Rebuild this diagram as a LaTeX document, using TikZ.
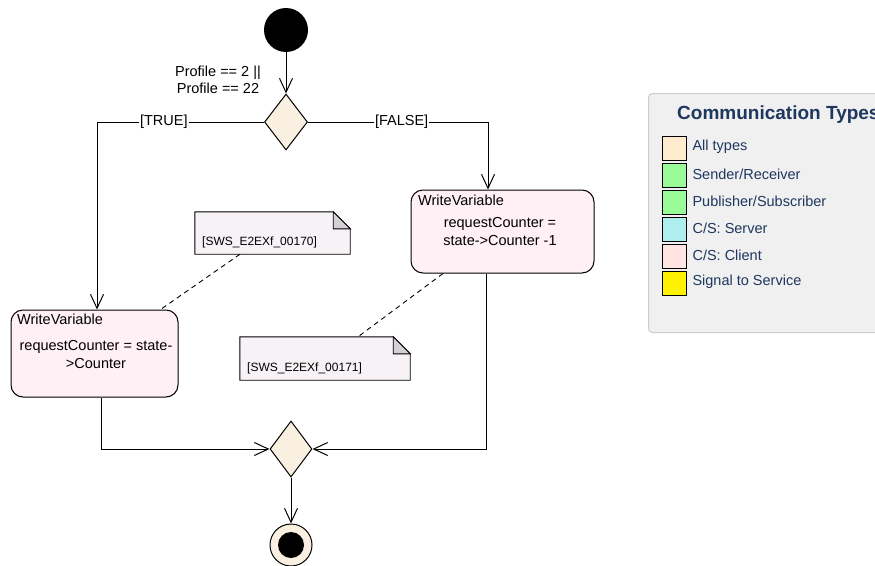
\documentclass[tikz,border=0pt]{standalone}
\usepackage{fontspec}
\setmainfont{Liberation Sans}
\usetikzlibrary{arrows.meta,shapes.geometric}
\definecolor{actfill}{RGB}{255,240,245}
\definecolor{decfill}{RGB}{250,240,225}
\definecolor{notefill}{RGB}{246,242,246}
\definecolor{foldfill}{RGB}{212,208,214}
\definecolor{legendbg}{RGB}{240,240,240}
\definecolor{legendline}{RGB}{205,205,205}
\definecolor{legendtext}{RGB}{30,55,95}
\definecolor{alltypes}{RGB}{255,235,205}
\definecolor{senderrec}{RGB}{152,251,152}
\definecolor{csserver}{RGB}{175,238,238}
\definecolor{csclient}{RGB}{255,228,225}
\newcommand{\flowsize}{1pt}

\begin{document}
\begin{tikzpicture}[x=1pt,y=-1pt,
  flow/.style={line width=\flowsize, -{Straight Barb[length=14pt,width=13pt]}},
  decision/.style={diamond, draw, fill=decfill, line width=\flowsize, minimum width=43pt, minimum height=56pt, inner sep=0pt},
  actbox/.style={rectangle, rounded corners=12pt, draw, fill=actfill, line width=\flowsize},
  guard/.style={fill=white, inner sep=1pt, font=\fontsize{14.5}{16}\selectfont},
  swatch/.style={rectangle, draw, line width=.8pt, minimum size=24pt, inner sep=0pt},
  legendentry/.style={anchor=west, text=legendtext, font=\fontsize{14.5}{16}\selectfont}]
  \useasboundingbox (0,0) rectangle (875,565);

  % start and first decision
  \node (init) at (286,30) [circle, fill=black, minimum size=44pt, inner sep=0pt] {};
  \node (dec1) at (286,122) [decision] {};
  \node (cond) at (218,80) [align=center, font=\fontsize{14.5}{17}\selectfont] {Profile == 2 ||\\Profile == 22};
  \draw[flow] (init) to (dec1);

  % the two write actions
  \node (wrR) at (502.5,231.5) [actbox, minimum width=183pt, minimum height=83pt] {};
  \node (wrL) at (94.5,353.5) [actbox, minimum width=167pt, minimum height=87pt] {};
  \node (wrRtitle) at (418,200) [anchor=west, inner sep=0pt, font=\fontsize{14.5}{15}\selectfont] {WriteVariable};
  \node (wrLtitle) at (17,319) [anchor=west, inner sep=0pt, font=\fontsize{14.5}{15}\selectfont] {WriteVariable};
  \node (wrRbody) at (500,232) [align=center, font=\fontsize{14.5}{18}\selectfont] {requestCounter =\\state->Counter -1};
  \node (wrLbody) at (96,355) [align=center, font=\fontsize{14.5}{18}\selectfont] {requestCounter = state-\\>Counter};

  \draw[flow] (dec1.west) -| node[guard, pos=.3] {[TRUE]} ([xshift=2.5pt]wrL.north);
  \draw[flow] (dec1.east) -| node[guard, pos=.26] {[FALSE]} ([xshift=-14.5pt]wrR.north);

  % notes
  \node (n170) at (272.5,233) [minimum width=155pt, minimum height=42pt, inner sep=0pt] {};
  \node (n171) at (325,358.5) [minimum width=170pt, minimum height=43pt, inner sep=0pt] {};
  \draw[fill=notefill, line width=.9pt] (n170.south west) -- (n170.north west) -- ([xshift=-17pt]n170.north east)
    -- ([yshift=-17pt]n170.north east) -- (n170.south east) -- cycle;
  \draw[fill=foldfill, line width=.9pt] ([xshift=-17pt]n170.north east) -- ([yshift=-17pt]n170.north east)
    -- ([xshift=-17pt,yshift=-17pt]n170.north east) -- cycle;
  \draw[fill=notefill, line width=.9pt] (n171.south west) -- (n171.north west) -- ([xshift=-17pt]n171.north east)
    -- ([yshift=-17pt]n171.north east) -- (n171.south east) -- cycle;
  \draw[fill=foldfill, line width=.9pt] ([xshift=-17pt]n171.north east) -- ([yshift=-17pt]n171.north east)
    -- ([xshift=-17pt,yshift=-17pt]n171.north east) -- cycle;
  \draw[font=\fontsize{12}{13}\selectfont]
    (202,242) node[anchor=west, inner sep=0pt] {[SWS\_E2EXf\_00170]}
    (247,368) node[anchor=west, inner sep=0pt] {[SWS\_E2EXf\_00171]};
  \draw[dashed, dash pattern=on 5pt off 4pt, line width=.9pt]
    ([xshift=-32.5pt]n170.south) to ([xshift=66pt]wrL.north)
    ([xshift=-59.5pt]wrR.south) to ([xshift=33pt]n171.north);

  % merge and final
  \node (dec2) at (291,449) [decision, minimum width=42pt] {};
  \node (final) at (291,545) [circle, draw, fill=decfill, line width=\flowsize, minimum size=42pt, inner sep=0pt] {};
  \fill (final.center) circle (13pt);
  \draw[flow] ([xshift=6.5pt]wrL.south) |- (dec2.west);
  \draw[flow] ([xshift=-16.5pt]wrR.south) |- (dec2.east);
  \draw[flow] (dec2) to (final);

  % legend
  \node (legend) at (648,93) [anchor=north west, rectangle, rounded corners=4pt, fill=legendbg, draw=legendline,
    line width=1pt, minimum width=260pt, minimum height=239pt] {};
  \node (legtitle) at (677,115) [anchor=west, inner sep=0pt, text=legendtext, font=\fontsize{19}{21}\bfseries\selectfont] {Communication Types};
  \node (sw1) at (674,148) [swatch, fill=alltypes] {};
  \node (sw2) at (674,175) [swatch, fill=senderrec] {};
  \node (sw3) at (674,202) [swatch, fill=senderrec] {};
  \node (sw4) at (674,229) [swatch, fill=csserver] {};
  \node (sw5) at (674,256) [swatch, fill=csclient] {};
  \node (sw6) at (674,283) [swatch, fill=yellow] {};
  \node at (689,147) [legendentry] {All types};
  \node at (689,174) [legendentry] {Sender/Receiver};
  \node at (689,201) [legendentry] {Publisher/Subscriber};
  \node at (689,228) [legendentry] {C/S: Server};
  \node at (689,255) [legendentry] {C/S: Client};
  \node at (689,282) [legendentry] {Signal to Service};
\end{tikzpicture}
\end{document}
